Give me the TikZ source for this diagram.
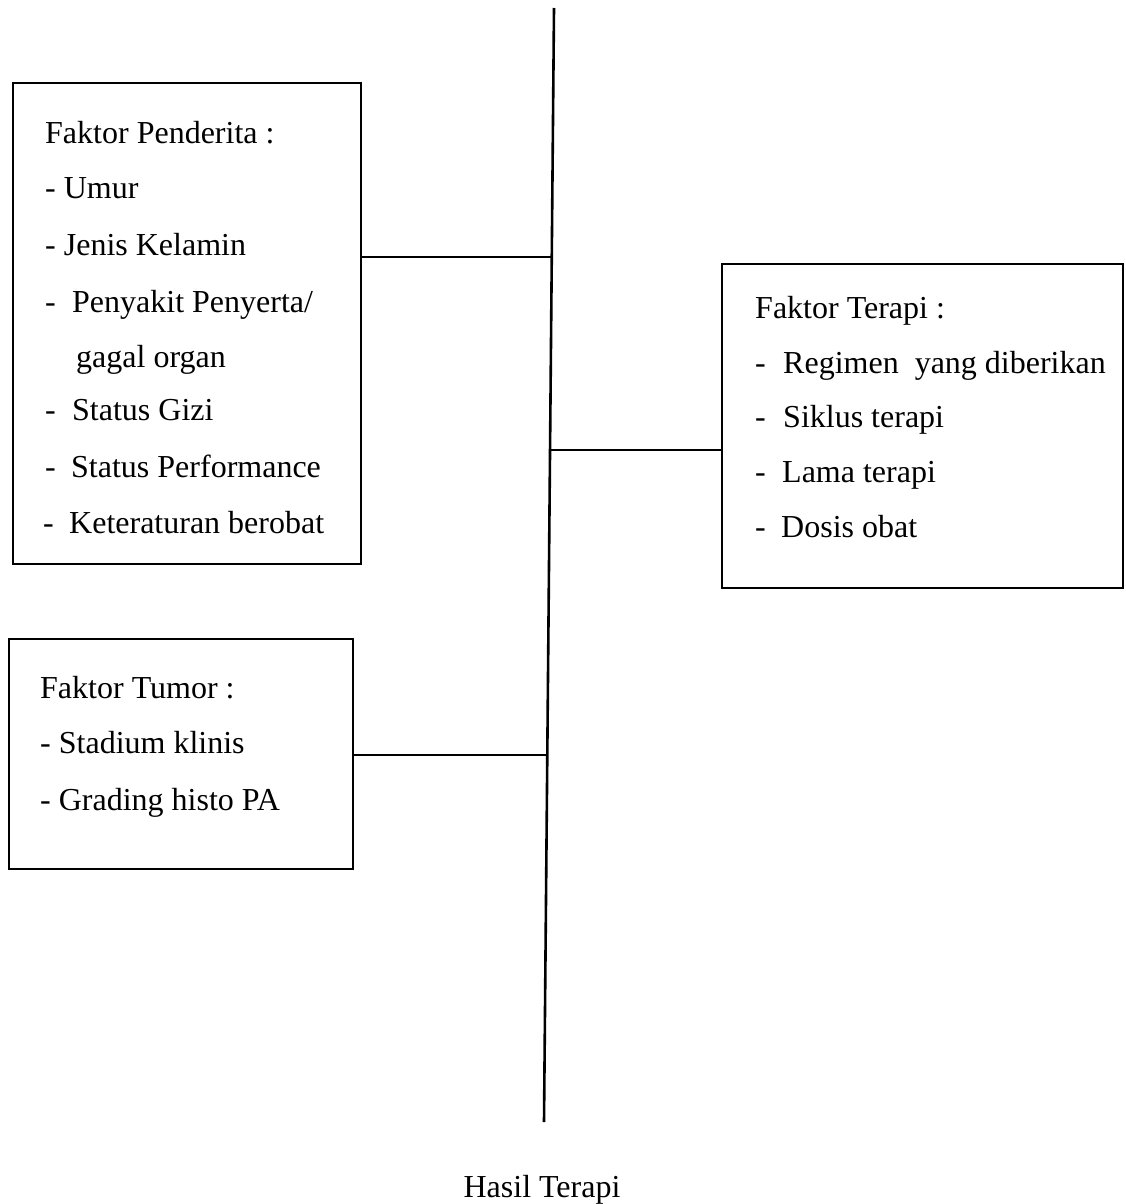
\documentclass[tikz,border=0pt]{standalone}
\usepackage{fontspec}
\setmainfont{Liberation Serif}
\usetikzlibrary{calc}
\begin{document}
\begin{tikzpicture}[x=1pt,y=-1pt,
  boxframe/.style={draw=black,line width=1.8pt,rectangle,inner sep=0pt,anchor=north west},
  txt/.style={anchor=base west,inner sep=0pt,font=\fontsize{32}{38}\selectfont},
  conn/.style={draw=black,line width=2.6pt}]
\useasboundingbox (0,0) rectangle (1125,1204);
% spine
\coordinate (top) at (554,8);
\coordinate (bot) at (544,1122);
\coordinate (j1) at ($(top)!0.2235!(bot)$);
\coordinate (j2) at ($(top)!0.3968!(bot)$);
\coordinate (j3) at ($(top)!0.6706!(bot)$);
\draw[conn] (top) -- (bot);
% boxes
\node[boxframe,minimum width=348pt,minimum height=481pt] (pend) at (12,82) {};
\node[boxframe,minimum width=401pt,minimum height=324pt] (ter) at (721,263) {};
\node[boxframe,minimum width=344pt,minimum height=230pt] (tum) at (8,638) {};
% connectors
\draw[conn] (pend.east |- j1) -- (j1);
\draw[conn] (j2) -- (ter.west |- j2);
\draw[conn] (tum.east |- j3) -- (j3);
% Faktor Penderita
\node[txt] (p0) at (45,143) {Faktor Penderita :};
\node[txt] (p1) at (45,198) {- Umur};
\node[txt] (p2) at (45,255) {- Jenis Kelamin};
\node[txt] (p3d) at (45,312) {-};
\node[txt] (p3) at (72,312) {Penyakit Penyerta/};
\node[txt] (p4) at (76,367) {gagal organ};
\node[txt] (p5d) at (45,420) {-};
\node[txt] (p5) at (72,420) {Status Gizi};
\node[txt] (p6d) at (45,477) {-};
\node[txt] (p6) at (71,477) {Status Performance};
\node[txt] (p7d) at (43,533) {-};
\node[txt] (p7) at (69,533) {Keteraturan berobat};
% Faktor Terapi
\node[txt] (t0) at (755,318) {Faktor Terapi :};
\node[txt] (t1d) at (755,373) {-};
\node[txt] (t1) at (783,373) {Regimen\hspace{0.5em}yang diberikan};
\node[txt] (t2d) at (755,427) {-};
\node[txt] (t2) at (783,427) {Siklus terapi};
\node[txt] (t3d) at (755,482) {-};
\node[txt] (t3) at (782,482) {Lama terapi};
\node[txt] (t4d) at (755,537) {-};
\node[txt] (t4) at (781,537) {Dosis obat};
% Faktor Tumor
\node[txt] (u0) at (40,698) {Faktor Tumor :};
\node[txt] (u1) at (40,753) {- Stadium klinis};
\node[txt] (u2) at (40,810) {- Grading histo PA};
% result
\node[txt,anchor=base] (hasil) at (542,1197) {Hasil Terapi};
\end{tikzpicture}
\end{document}
